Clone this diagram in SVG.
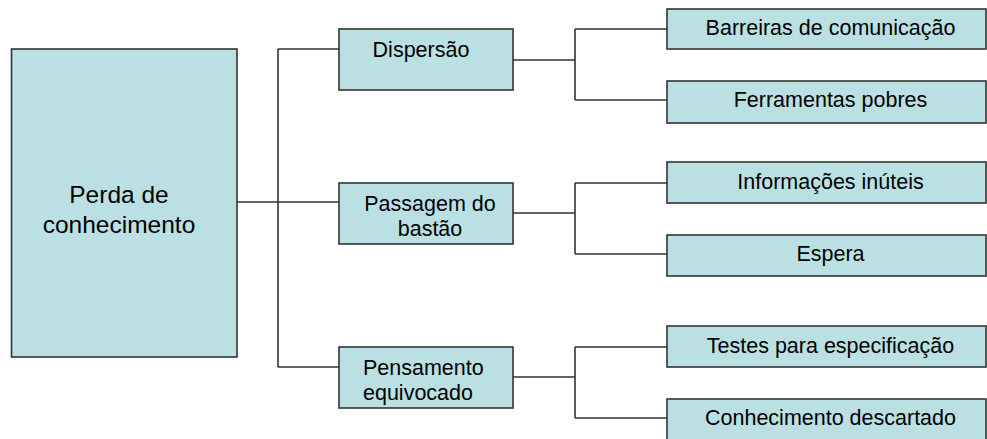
<svg xmlns="http://www.w3.org/2000/svg" width="987" height="439" viewBox="0 0 987 439">
<style>
.box{fill:#BBE0E3;stroke:#333;stroke-width:1.6}
.t{font-family:"Liberation Sans",Arial,sans-serif;font-size:21.5px;fill:#000}
.m{text-anchor:middle}
.big{font-size:24.5px}
.c{fill:none;stroke:#333;stroke-width:1.6}
</style>
<rect width="987" height="439" fill="#fff"/>
<g id="connectors" class="c">
<path d="M237,202 H278 M278,49 V367 M278,49 H339 M278,202 H339 M278,367 H339"/>
<path d="M513,60 H575 M575,29 V100 M575,29 H667 M575,100 H667"/>
<path d="M513,213 H575 M575,183 V254 M575,183 H667 M575,254 H667"/>
<path d="M513,377 H575 M575,347 V418 M575,347 H667 M575,418 H667"/>
</g>
<g id="perda">
<rect class="box" x="11.5" y="49" width="225.5" height="308"/>
<text class="t m big" x="119" y="203">Perda de</text>
<text class="t m big" x="119" y="233">conhecimento</text>
</g>
<g id="dispersao">
<rect class="box" x="339" y="29" width="174" height="61"/>
<text class="t m" x="421" y="57">Dispersão</text>
</g>
<g id="passagem">
<rect class="box" x="339" y="183" width="174" height="61"/>
<text class="t m" x="430" y="211">Passagem do</text>
<text class="t m" x="430" y="236">bastão</text>
</g>
<g id="pensamento">
<rect class="box" x="339" y="347" width="174" height="61"/>
<text class="t" x="363" y="375">Pensamento</text>
<text class="t" x="363" y="400">equivocado</text>
</g>
<g id="barreiras">
<rect class="box" x="667" y="9" width="319" height="40"/>
<text class="t m" x="830.5" y="35">Barreiras de comunicação</text>
</g>
<g id="ferramentas">
<rect class="box" x="667" y="81" width="319" height="42"/>
<text class="t m" x="830.5" y="107">Ferramentas pobres</text>
</g>
<g id="informacoes">
<rect class="box" x="667" y="162" width="319" height="41"/>
<text class="t m" x="830.5" y="189">Informações inúteis</text>
</g>
<g id="espera">
<rect class="box" x="667" y="235" width="319" height="41"/>
<text class="t m" x="830.5" y="261">Espera</text>
</g>
<g id="testes">
<rect class="box" x="667" y="326" width="319" height="41"/>
<text class="t m" x="830.5" y="353">Testes para especificação</text>
</g>
<g id="conhecimento">
<rect class="box" x="667" y="399" width="319" height="42"/>
<text class="t m" x="830.5" y="425">Conhecimento descartado</text>
</g>
</svg>
